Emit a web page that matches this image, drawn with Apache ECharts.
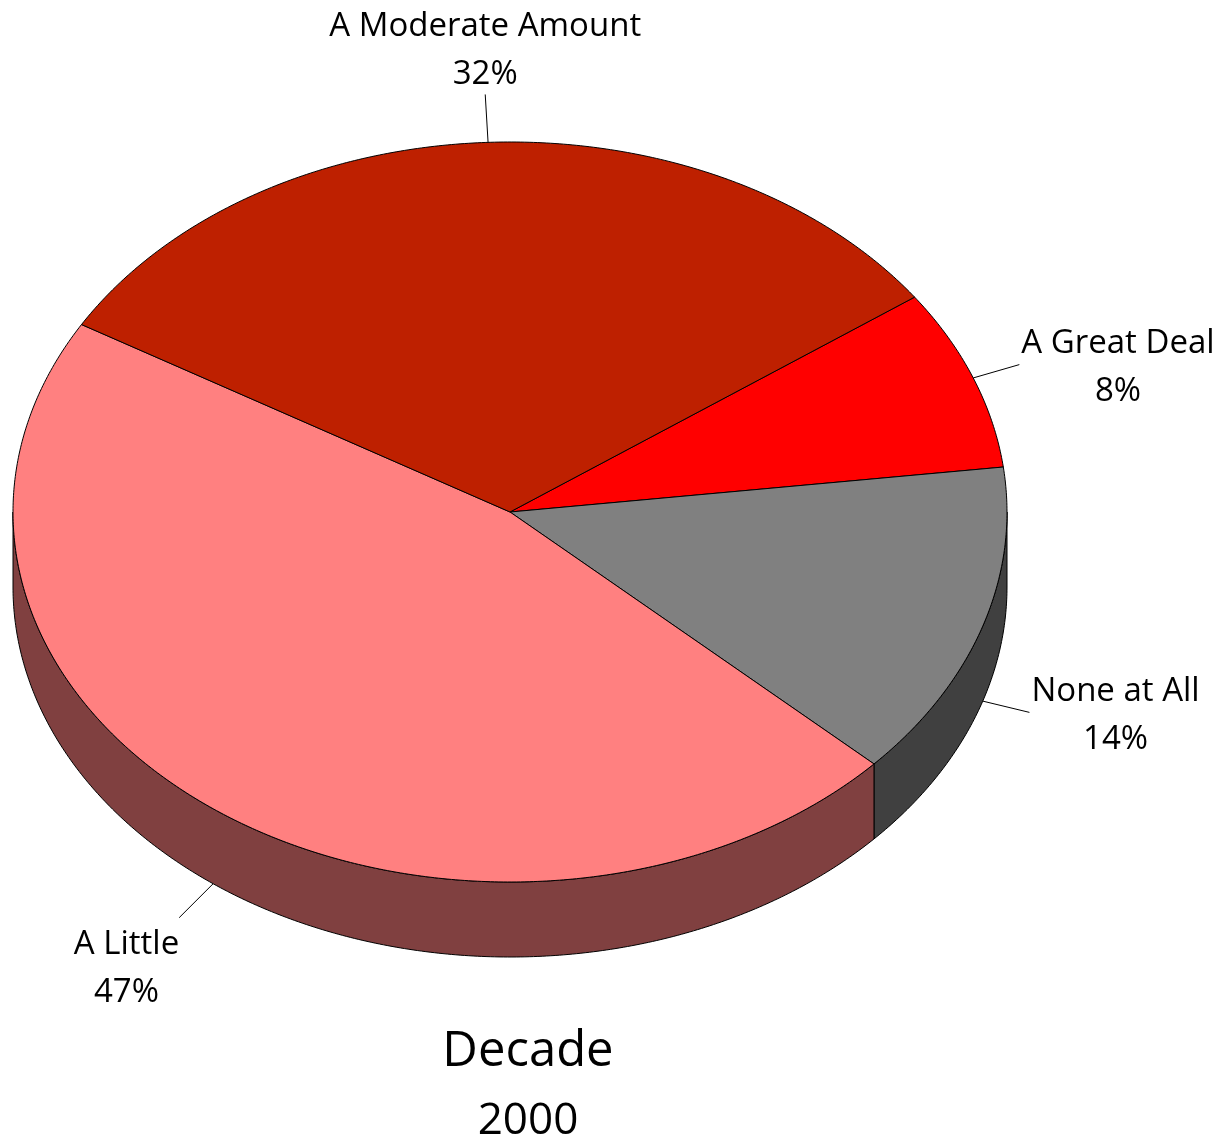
<!DOCTYPE html>
<html>
<head>
<meta charset="utf-8">
<script src="https://cdn.jsdelivr.net/npm/echarts@6/dist/echarts.min.js"></script>
<style>
  html, body { margin: 0; padding: 0; background: #ffffff; }
  #chart { width: 1225px; height: 1144px; }
</style>
</head>
<body>
<div id="chart"></div>
<script>
// Survey answers for the 2000 decade (percent of respondents)
const categories = ['A Great Deal', 'None at All', 'A Little', 'A Moderate Amount'];
const shares = [8, 14, 47, 32];
const titleLines = ['Decade', '2000'];

// Face colours and the darker tones used on the visible rim
const topColors = ['#FF0000', '#808080', '#FF8080', '#BE2000'];
const sideColors = ['#800000', '#404040', '#804040', '#601000'];

const FONT_FAMILY = '"Open Sans", Lato, sans-serif';
const LABEL_SIZE = 33;
const LABEL_LINE_H = 48;

// Tilted-disc geometry: ellipse centre, radii, rim thickness, first slice edge (degrees, counter-clockwise from 3 o'clock)
const PIE = { cx: 510, cy: 512, rx: 497, ry: 370, depth: 75, startAngle: 35.5 };
const total = shares.reduce((a, b) => a + b, 0);

const measureCtx = document.createElement('canvas').getContext('2d');
function textWidth(str, size) {
  measureCtx.font = size + 'px ' + FONT_FAMILY;
  return measureCtx.measureText(str).width;
}

function pt(deg, drop) {
  const r = deg * Math.PI / 180;
  return [PIE.cx + PIE.rx * Math.cos(r), PIE.cy - PIE.ry * Math.sin(r) + (drop || 0)];
}
function arc(from, to, drop) {
  const n = Math.max(2, Math.ceil(Math.abs(from - to) / 0.5));
  const pts = [];
  for (let i = 0; i <= n; i++) pts.push(pt(from + (to - from) * i / n, drop));
  return pts;
}

function renderSlice(params, api) {
  const i = params.dataIndex;
  const value = api.value(0);
  let before = 0;
  for (let k = 0; k < i; k++) before += shares[k];
  const a1 = PIE.startAngle - before / total * 360;
  const a2 = a1 - value / total * 360;
  const children = [];

  // front rim: the part of the slice lying in the lower half of the ellipse
  for (const k of [-1, 0, 1]) {
    const lo = Math.max(a2, k * 360 - 180);
    const hi = Math.min(a1, k * 360);
    if (hi > lo) {
      const upper = arc(hi, lo, 0);
      const lower = arc(lo, hi, PIE.depth);
      children.push({
        type: 'polygon', z2: 1,
        shape: { points: upper.concat(lower) },
        style: { fill: sideColors[i], stroke: '#000', lineWidth: 1, lineJoin: 'round' }
      });
    }
  }

  // top face
  children.push({
    type: 'polygon', z2: 10,
    shape: { points: [[PIE.cx, PIE.cy]].concat(arc(a1, a2, 0)) },
    style: { fill: api.visual('color'), stroke: '#000', lineWidth: 1, lineJoin: 'round' }
  });

  // leader line and label
  const mid = (a1 + a2) / 2;
  const mr = mid * Math.PI / 180;
  const front = Math.sin(mr) < 0;
  const s = pt(mid, front ? PIE.depth : 0);
  let dx = Math.cos(mr), dy = -Math.sin(mr) * PIE.ry / PIE.rx;
  const len = Math.hypot(dx, dy); dx /= len; dy /= len;
  const e = [s[0] + dx * 48, s[1] + dy * 48];
  children.push({
    type: 'line', z2: 20,
    shape: { x1: s[0], y1: s[1], x2: e[0], y2: e[1] },
    style: { stroke: '#000', lineWidth: 1 }
  });

  const name = categories[i];
  const pct = value + '%';
  const w = Math.max(textWidth(name, LABEL_SIZE), textWidth(pct, LABEL_SIZE));
  let tx, ty, va;
  if (Math.abs(dx) < 0.3) {
    tx = e[0]; ty = e[1] + 4; va = dy < 0 ? 'bottom' : 'top';
  } else if (dx > 0) {
    tx = e[0] + 2 + w / 2; ty = e[1] + 3; va = 'middle';
  } else {
    tx = e[0] - w / 2;
    ty = e[1] + 3; va = dy > 0.5 ? 'top' : 'middle';
  }
  children.push({
    type: 'text', z2: 20,
    x: tx, y: ty,
    style: {
      text: name + '\n' + pct,
      font: LABEL_SIZE + 'px ' + FONT_FAMILY,
      lineHeight: LABEL_LINE_H,
      align: 'center',
      verticalAlign: va,
      fill: '#000'
    }
  });

  return { type: 'group', children: children };
}

const chart = echarts.init(document.getElementById('chart'), null, { renderer: 'canvas' });
chart.setOption({
  backgroundColor: '#ffffff',
  animation: false,
  graphic: [
    { type: 'text', x: 528, y: 1052, style: { text: titleLines[0], font: '49px ' + FONT_FAMILY, align: 'center', verticalAlign: 'middle', fill: '#000' } },
    { type: 'text', x: 528, y: 1121, style: { text: titleLines[1], font: '44px ' + FONT_FAMILY, align: 'center', verticalAlign: 'middle', fill: '#000' } }
  ],
  series: [{
    type: 'custom',
    coordinateSystem: 'none',
    renderItem: renderSlice,
    data: shares.map((v, i) => ({ name: categories[i], value: v, itemStyle: { color: topColors[i] } }))
  }]
});
</script>
</body>
</html>
